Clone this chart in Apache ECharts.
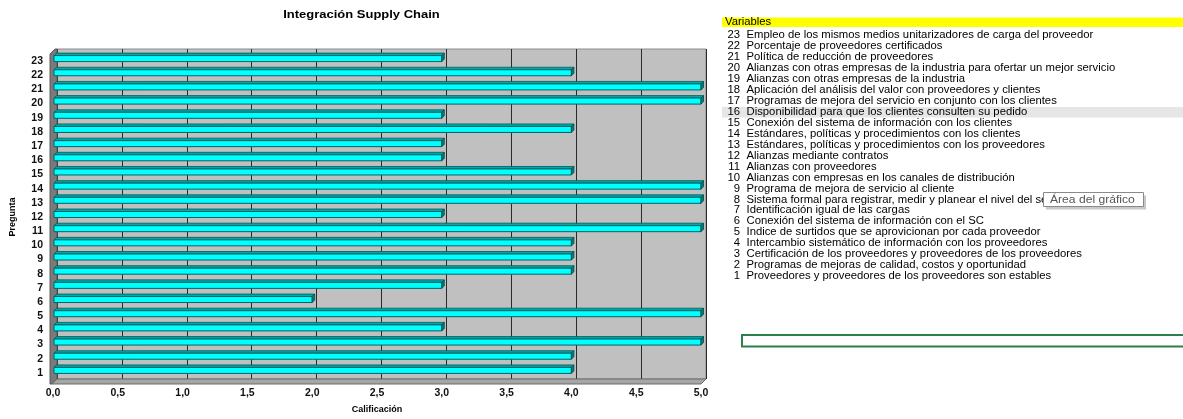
<!DOCTYPE html>
<html>
<head>
<meta charset="utf-8">
<script src="https://cdn.jsdelivr.net/npm/echarts@6/dist/echarts.min.js"></script>
<style>
html,body{margin:0;padding:0;background:#fff;}
#main{width:1183px;height:419px;}
</style>
</head>
<body>
<div id="main"></div>
<script>
// Data
var preguntas = ['1','2','3','4','5','6','7','8','9','10','11','12','13','14','15','16','17','18','19','20','21','22','23'];
var calificacion = [4,4,5,3,5,2,3,4,4,4,5,3,5,5,4,3,3,4,3,5,5,4,3];
var xTickLabels = ['0,0','0,5','1,0','1,5','2,0','2,5','3,0','3,5','4,0','4,5','5,0'];
var variables = [
  '23 Empleo de los mismos medios unitarizadores de carga del proveedor',
  '22 Porcentaje de proveedores certificados',
  '21 Política de reducción de proveedores',
  '20 Alianzas con otras empresas de la industria para ofertar un mejor servicio',
  '19 Alianzas con otras empresas de la industria',
  '18 Aplicación del análisis del valor con proveedores y clientes',
  '17 Programas de mejora del servicio en conjunto con los clientes',
  '16 Disponibilidad para que los clientes consulten su pedido',
  '15 Conexión del sistema de información con los clientes',
  '14 Estándares, políticas y procedimientos con los clientes',
  '13 Estándares, políticas y procedimientos con los proveedores',
  '12 Alianzas mediante contratos',
  '11 Alianzas con proveedores',
  '10 Alianzas con empresas en los canales de distribución',
  '9 Programa de mejora de servicio al cliente',
  '8 Sistema formal para registrar, medir y planear el nivel del ser',
  '7 Identificación igual de las cargas',
  '6 Conexión del sistema de información con el SC',
  '5 Indice de surtidos que se aprovicionan por cada proveedor',
  '4 Intercambio sistemático de información con los proveedores',
  '3 Certificación de los proveedores y proveedores de los proveedores',
  '2 Programas de mejoras de calidad, costos y oportunidad',
  '1 Proveedores y proveedores de los proveedores son estables'
];

var FONT = "'Liberation Sans', Arial, sans-serif";
var SX = 1.13;
var chart = echarts.init(document.getElementById('main'), null, {renderer:'canvas'});

// 3D geometry
var G1 = {left:52, right:482, top:54, bottom:35};
var D = 5; // depth offset
var W = 1183, H = 419;
var fx0 = G1.left, fx1 = W - G1.right, fy0 = G1.top, fy1 = H - G1.bottom;

var graphics = [];
// title
graphics.push({type:'text', x:361.5, y:14.5, scaleX:1.18, style:{text:'Integración Supply Chain', font:'bold 11px '+FONT, fill:'#000', align:'center', textAlign:'center', verticalAlign:'middle', textVerticalAlign:'middle'}, z:2});
// left wall & floor
graphics.push({type:'polygon', shape:{points:[[fx0-2,fy0],[fx0+D-2,fy0-D],[fx0+D,fy0-D],[fx0+D,fy1-D],[fx0,fy1],[fx0-2,fy1]]}, style:{fill:'#7a7a7a', stroke:'#5a5a5a', lineWidth:1}, z:1});
graphics.push({type:'polygon', shape:{points:[[fx0,fy1],[fx0+D,fy1-D],[fx1+D,fy1-D],[fx1,fy1]]}, style:{fill:'#a6a6a6', stroke:'#6a6a6a', lineWidth:1}, z:1});
// legend header
graphics.push({type:'rect', shape:{x:722,y:17.5,width:461,height:9.5}, style:{fill:'#ffff00'}, z:1});
graphics.push({type:'text', x:725, y:22.5, scaleX:SX, style:{text:'Variables', font:'10px '+FONT, fill:'#000', verticalAlign:'middle', textVerticalAlign:'middle'}, z:2});
// highlight row for 16
graphics.push({type:'rect', shape:{x:722,y:107,width:461,height:10.5}, style:{fill:'#e6e6e6'}, z:1});
variables.forEach(function(v, k){
  var sp = v.indexOf(' ');
  var num = v.slice(0, sp), txt = v.slice(sp+1);
  var y = 35.5 + 10.95*k;
  graphics.push({type:'text', x:740, y:y, scaleX:SX, style:{text:num, font:'10px '+FONT, fill:'#000', align:'right', textAlign:'right', verticalAlign:'middle', textVerticalAlign:'middle'}, z:2});
  graphics.push({type:'text', x:746.5, y:y, scaleX:SX, style:{text:txt, font:'10px '+FONT, fill:'#000', verticalAlign:'middle', textVerticalAlign:'middle'}, z:2});
});
// tooltip-like box
graphics.push({type:'rect', shape:{x:1046,y:195.5,width:100,height:14}, style:{fill:'#c8c8c8'}, z:3});
graphics.push({type:'rect', shape:{x:1043.5,y:192.5,width:100,height:14}, style:{fill:'#ffffff', stroke:'#8a8a8a', lineWidth:1}, z:4});
graphics.push({type:'text', x:1050, y:199.5, scaleX:1.1, style:{text:'Área del gráfico', font:'11px '+FONT, fill:'#555', verticalAlign:'middle', textVerticalAlign:'middle'}, z:5});
// green box
graphics.push({type:'rect', shape:{x:742,y:335,width:445,height:11.5}, style:{fill:'#fff', stroke:'#2e7d4f', lineWidth:2}, z:2});

function renderBar(params, api){
  var cat = api.value(0), val = api.value(1);
  var p0 = api.coord([0, cat]);
  var p1 = api.coord([val, cat]);
  var x0 = p0[0] + 1, x1 = p1[0];
  var yc = p0[1] - 2.5;
  var h = 6;
  var yt = yc - h/2, yb = yc + h/2;
  var d = 2.5;
  return {type:'group', children:[
    {type:'polygon', shape:{points:[[x0,yt],[x0+d,yt-d],[x1+d,yt-d],[x1,yt]]}, style:{fill:'#00a8a8', stroke:'#005a5a', lineWidth:0.8}},
    {type:'rect', shape:{x:x0, y:yt, width:x1-x0, height:h}, style:{fill:'#00ffff', stroke:'#006464', lineWidth:1}},
    {type:'polygon', shape:{points:[[x1,yt],[x1+d,yt-d],[x1+d,yb-d],[x1,yb]]}, style:{fill:'#008080', stroke:'#004a4a', lineWidth:0.8}}
  ]};
}

var barData = calificacion.map(function(v, i){ return [i, v]; });

chart.setOption({
  animation:false,
  grid:[
    {left:G1.left, right:G1.right, top:G1.top, bottom:G1.bottom, show:false},
    {left:G1.left+D, right:G1.right-D, top:G1.top-D, bottom:G1.bottom+D, show:true, backgroundColor:'#c0c0c0', borderColor:'#8c8c8c', borderWidth:1}
  ],
  xAxis:[{
    gridIndex:0, type:'value', min:0, max:5, interval:0.5,
    name:'Calificación', nameLocation:'middle', nameGap:25,
    nameTextStyle:{fontFamily:FONT, fontSize:9, fontWeight:'bold', color:'#000'},
    axisLine:{show:true, lineStyle:{color:'#555', width:1}},
    axisTick:{show:true, length:3, lineStyle:{color:'#333'}},
    axisLabel:{fontFamily:FONT, fontSize:10.5, fontWeight:'bold', color:'#111', margin:8,
      formatter:function(v){ return xTickLabels[Math.round(v*2)]; }},
    splitLine:{show:false}
  },{
    gridIndex:1, type:'value', min:0, max:5, interval:0.5,
    axisLine:{show:false}, axisTick:{show:false}, axisLabel:{show:false},
    splitLine:{show:true, lineStyle:{color:'#2a2a2a', width:1}}
  }],
  yAxis:[{
    gridIndex:0, type:'category', data:preguntas,
    name:'Pregunta', nameLocation:'middle', nameGap:36, nameRotate:90,
    nameTextStyle:{fontFamily:FONT, fontSize:9, fontWeight:'bold', color:'#000'},
    axisLine:{show:true, lineStyle:{color:'#333', width:1}},
    axisTick:{show:true, length:3, interval:0, lineStyle:{color:'#333'}},
    axisLabel:{fontFamily:FONT, fontSize:10.5, fontWeight:'bold', color:'#111', margin:10, interval:0},
    splitLine:{show:false}
  },{
    gridIndex:1, type:'category', data:preguntas,
    axisLine:{show:false}, axisTick:{show:false}, axisLabel:{show:false}, splitLine:{show:false}
  }],
  series:[{
    type:'custom', xAxisIndex:0, yAxisIndex:0, z:5,
    renderItem:renderBar,
    encode:{x:1, y:0},
    data:barData
  }],
  graphic:graphics
});
</script>
</body>
</html>
